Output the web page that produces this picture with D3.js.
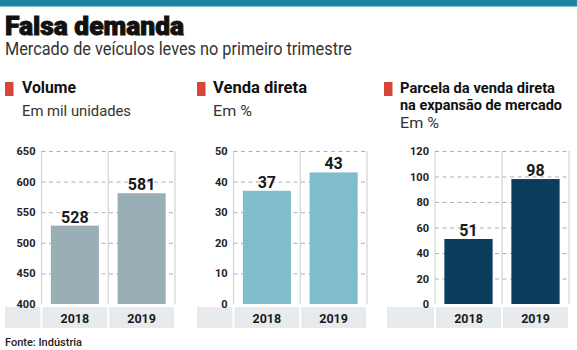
<!DOCTYPE html>
<html>
<head>
<meta charset="utf-8">
<script src="https://cdn.jsdelivr.net/npm/d3@7"></script>
<style>
  body { margin: 0; background: #fff; }
  text { font-family: Roboto, "Liberation Sans", sans-serif; }
</style>
</head>
<body>
<div id="chart-area"></div>
<script>
// DATA
var years = ["2018", "2019"];
var volume = [528, 581];
var vendaDireta = [37, 43];
var parcela = [51, 98];
var volumeTicks = [400, 450, 500, 550, 600, 650];
var vendaTicks = [0, 10, 20, 30, 40, 50];
var parcelaTicks = [0, 20, 40, 60, 80, 100, 120];

var width = 577;
var height = 350;

var svg = d3.select("#chart-area")
    .append("svg")
    .attr("width", width)
    .attr("height", height);

// top band + titles
svg.append("rect")
    .attr("x", 0).attr("y", 0)
    .attr("width", width).attr("height", 6.5)
    .attr("fill", "#1a86a1");

svg.append("text")
    .attr("x", 5).attr("y", 34.5)
    .attr("font-size", "26px")
    .attr("font-weight", 900)
    .attr("textLength", 179)
    .attr("lengthAdjust", "spacingAndGlyphs")
    .attr("stroke", "#111")
    .attr("stroke-width", 0.9)
    .style("fill", "#111")
    .text("Falsa demanda");

svg.append("text")
    .attr("x", 5).attr("y", 55)
    .attr("font-size", "17.5px")
    .attr("textLength", 347)
    .attr("lengthAdjust", "spacingAndGlyphs")
    .style("fill", "#333")
    .text("Mercado de veículos leves no primeiro trimestre");

svg.append("text")
    .attr("x", 5).attr("y", 346)
    .attr("font-size", "11px")
    .attr("font-weight", 500)
    .style("fill", "#222")
    .text("Fonte: Indústria");

// PANELS
var plotTop = 151;
var plotBottom = 304;

drawPanel({
    values: volume, ticks: volumeTicks, color: "#9aafb5",
    iconX: 5, textX: 22, left: 41.5, right: 175, bandLeft: 5,
    title: [["Volume", 54]], sub: ["Em mil unidades", 109], subY: 116
});
drawPanel({
    values: vendaDireta, ticks: vendaTicks, color: "#7fbdcb",
    iconX: 197, textX: 213, left: 233.5, right: 367, bandLeft: 197,
    title: [["Venda direta", 94]], sub: ["Em %", 39], subY: 116
});
drawPanel({
    values: parcela, ticks: parcelaTicks, color: "#0d3d5e",
    iconX: 384, textX: 400, left: 435, right: 569, bandLeft: 387,
    title: [["Parcela da venda direta", 155], ["na expansão de mercado", 162]],
    sub: ["Em %", 39], subY: 128, titleSize: 14.5
});

function drawPanel(p) {
    var g = svg.append("g");

    // heading
    g.append("rect")
        .attr("x", p.iconX).attr("y", 82)
        .attr("width", 8.5).attr("height", 14)
        .attr("fill", "#d8463b");

    p.title.forEach(function (t, i) {
        g.append("text")
            .attr("x", p.textX).attr("y", 93 + i * 17)
            .attr("font-size", (p.titleSize || 16) + "px")
            .attr("font-weight", 700)
            .attr("textLength", t[1])
            .attr("lengthAdjust", "spacingAndGlyphs")
            .style("fill", "#111")
            .text(t[0]);
    });

    g.append("text")
        .attr("x", p.textX).attr("y", p.subY)
        .attr("font-size", "15px")
        .attr("textLength", p.sub[1])
        .attr("lengthAdjust", "spacingAndGlyphs")
        .style("fill", "#333")
        .text(p.sub[0]);

    // scales
    var x = d3.scaleBand()
        .domain(years)
        .range([p.left, p.right])
        .paddingInner(0.28)
        .paddingOuter(0.14);

    var y = d3.scaleLinear()
        .domain(d3.extent(p.ticks))
        .range([plotBottom, plotTop]);

    var step = x.step();

    // category band
    var cells = [[p.bandLeft, p.left - 1]];
    years.forEach(function (d, i) {
        cells.push([p.left + i * step + 1, p.left + (i + 1) * step - 1]);
    });
    g.selectAll(".cell").data(cells).enter()
        .append("rect")
        .attr("x", function (d) { return d[0]; })
        .attr("y", 307)
        .attr("width", function (d) { return d[1] - d[0]; })
        .attr("height", 21)
        .attr("fill", "#e7ebee");

    g.selectAll(".cat").data(years).enter()
        .append("text")
        .attr("x", function (d) { return x(d) + x.bandwidth() / 2; })
        .attr("y", 322.5)
        .attr("text-anchor", "middle")
        .attr("font-size", "12.5px")
        .attr("font-weight", 700)
        .style("fill", "#1a1a1a")
        .text(function (d) { return d; });

    // vertical separators
    g.selectAll(".vline").data([0, 1, 2]).enter()
        .append("line")
        .attr("x1", function (d) { return p.left + d * step; })
        .attr("x2", function (d) { return p.left + d * step; })
        .attr("y1", plotTop)
        .attr("y2", plotBottom)
        .attr("stroke", "#d0d4d6")
        .attr("stroke-width", 1.2);

    // y axis with dashed grid
    var axis = g.append("g")
        .attr("transform", "translate(" + p.left + ",0)")
        .call(d3.axisLeft(y).tickValues(p.ticks)
            .tickSize(-(p.right - p.left)).tickPadding(6));
    axis.select(".domain").remove();
    axis.selectAll("line")
        .attr("stroke", "#aab0b3")
        .attr("stroke-dasharray", "4,3.5")
        .filter(function (d) { return d === p.ticks[0]; })
        .remove();
    axis.selectAll("text")
        .attr("font-size", "11px")
        .attr("font-weight", 700)
        .attr("font-family", "Roboto, sans-serif")
        .style("fill", "#222");

    // bars
    g.selectAll(".bar").data(p.values).enter()
        .append("rect")
        .attr("x", function (d, i) { return x(years[i]); })
        .attr("y", function (d) { return y(d); })
        .attr("width", x.bandwidth())
        .attr("height", function (d) { return plotBottom - y(d); })
        .attr("fill", p.color);

    g.selectAll(".val").data(p.values).enter()
        .append("text")
        .attr("x", function (d, i) { return x(years[i]) + x.bandwidth() / 2; })
        .attr("y", function (d) { return y(d) - 3; })
        .attr("text-anchor", "middle")
        .attr("font-size", "16px")
        .attr("font-weight", 700)
        .style("fill", "#1a1a1a")
        .text(function (d) { return d; });
}
</script>
</body>
</html>
